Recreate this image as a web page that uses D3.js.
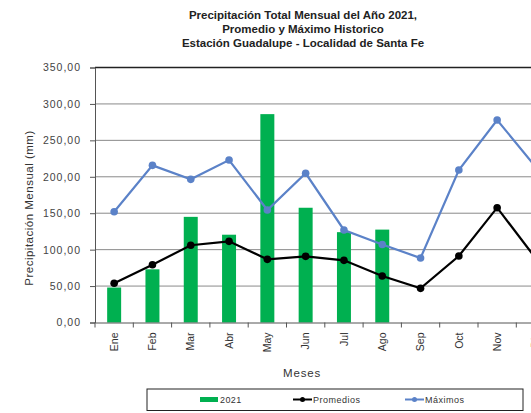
<!DOCTYPE html>
<html><head><meta charset="utf-8">
<script src="https://cdn.jsdelivr.net/npm/d3@7"></script>
<style>body{margin:0;background:#fff;overflow:hidden}svg{display:block}</style>
</head><body>
<svg id="c" width="531" height="413"></svg>
<script>
const months = ["Ene","Feb","Mar","Abr","May","Jun","Jul","Ago","Sep","Oct","Nov","Dic"];
const values2021 = [48,73,145,120.5,286,157.5,124,127.5,null,null,null,null];
const promedios = [53.8,79.3,106,111.4,86.7,90.8,85.3,63.8,46.9,91.3,157.6,88.5];
const maximos = [152,215.7,196.5,223,154.4,204.8,127,107,88.5,209.3,278,213.9];
const yTicks = [0,50,100,150,200,250,300,350];
const titleLines = ["Precipitación Total Mensual del Año 2021,","Promedio y Máximo Historico","Estación Guadalupe - Localidad de Santa Fe"];

const svg = d3.select("#c");
const font = "'Liberation Sans', Arial, sans-serif";
const L = 95, T = 67.5, B = 322.5, R = 95 + 12*38.3;
const x = d3.scaleBand().domain(months).range([L, R]).paddingInner(0.635).paddingOuter(0.3175);
const xc = d3.scaleBand().domain(months).range([L, R]);
const y = d3.scaleLinear().domain([0,350]).range([B, T]);

// title
svg.append("g").selectAll("text").data(titleLines).join("text")
  .attr("x", 303).attr("y", (d,i)=>19+i*14).attr("text-anchor","middle")
  .attr("font-family", font).attr("font-size", 11.5).attr("font-weight","bold").attr("fill","#222")
  .text(d=>d);

// gridlines
svg.append("g").selectAll("line").data(yTicks.slice(1)).join("line")
  .attr("x1", L).attr("x2", R).attr("y1", d=>y(d)).attr("y2", d=>y(d))
  .attr("stroke", d=>d===350?"#222":"#8a8a8a").attr("stroke-width", d=>d===350?1.3:1);

// y axis
const ya = svg.append("g").attr("transform", `translate(${L},0)`)
  .call(d3.axisLeft(y).tickValues(yTicks).tickSize(5).tickFormat(d=>d3.format(".2f")(d).replace(".",",")));
ya.select(".domain").attr("stroke","#555");
ya.selectAll(".tick line").attr("stroke","#555");
ya.selectAll("text").attr("font-family", font).attr("font-size", 10.5).attr("letter-spacing", 1)
  .attr("fill","#444").attr("dx",-6);

// bars
svg.append("g").selectAll("rect").data(months.map((m,i)=>({m, v: values2021[i]})).filter(d=>d.v!=null)).join("rect")
  .attr("x", d=>x(d.m)).attr("width", x.bandwidth())
  .attr("y", d=>y(d.v)).attr("height", d=>B - y(d.v))
  .attr("fill", "#00b050");

// x axis
const xa = svg.append("g").attr("transform", `translate(0,${B})`)
  .call(d3.axisBottom(xc).tickSize(0).tickFormat(d=>d));
xa.select(".domain").attr("stroke","#555");
xa.selectAll("text").attr("font-family", font).attr("font-size", 10.5).attr("fill","#333")
  .attr("transform","rotate(-90)").attr("text-anchor","end").attr("x", -10).attr("y", 0).attr("dy","0.35em");
// tick marks at band boundaries
svg.append("g").selectAll("line").data(d3.range(13)).join("line")
  .attr("x1", i=>L + i*xc.step()).attr("x2", i=>L + i*xc.step())
  .attr("y1", B).attr("y2", B+5).attr("stroke","#555");

// lines
const cx = m => xc(m) + xc.bandwidth()/2;
const line = d3.line().x(d=>cx(d.m)).y(d=>y(d.v));
const series = [
  {name:"Máximos", data: maximos, color:"#5b82c8", w:2.2, r:3.8},
  {name:"Promedios", data: promedios, color:"#000", w:2.2, r:3.8}
];
series.forEach(s=>{
  const pts = months.map((m,i)=>({m, v:s.data[i]}));
  svg.append("path").datum(pts).attr("d", line).attr("fill","none")
    .attr("stroke", s.color).attr("stroke-width", s.w);
  svg.append("g").selectAll("circle").data(pts).join("circle")
    .attr("cx", d=>cx(d.m)).attr("cy", d=>y(d.v)).attr("r", s.r).attr("fill", s.color);
});

// axis titles
svg.append("text").attr("transform","translate(33,208) rotate(-90)").attr("text-anchor","middle")
  .attr("font-family", font).attr("font-size", 11.5).attr("letter-spacing", 0.5).attr("fill","#333").text("Precipitación Mensual (mm)");
svg.append("text").attr("x", 302).attr("y", 377).attr("text-anchor","middle")
  .attr("font-family", font).attr("font-size", 11.5).attr("letter-spacing", 0.8).attr("fill","#333").text("Meses");

// legend
const lg = svg.append("g");
lg.append("rect").attr("x",147).attr("y",389).attr("width",376).attr("height",21.5)
  .attr("fill","#fff").attr("stroke","#222").attr("stroke-width",1);
lg.append("rect").attr("x",200).attr("y",397).attr("width",18).attr("height",5).attr("fill","#00b050");
lg.append("text").attr("x",220).attr("y",403).attr("font-family",font).attr("font-size",9).attr("letter-spacing",0.4).attr("fill","#333").text("2021");
[{x:293,c:"#000",t:"Promedios"},{x:405,c:"#5b82c8",t:"Máximos"}].forEach(it=>{
  lg.append("line").attr("x1",it.x).attr("x2",it.x+19).attr("y1",399.5).attr("y2",399.5).attr("stroke",it.c).attr("stroke-width",2);
  lg.append("circle").attr("cx",it.x+9.5).attr("cy",399.5).attr("r",2.5).attr("fill",it.c);
  lg.append("text").attr("x",it.x+20).attr("y",403).attr("font-family",font).attr("font-size",9).attr("letter-spacing",0.5).attr("fill","#333").text(it.t);
});
</script>
</body></html>
